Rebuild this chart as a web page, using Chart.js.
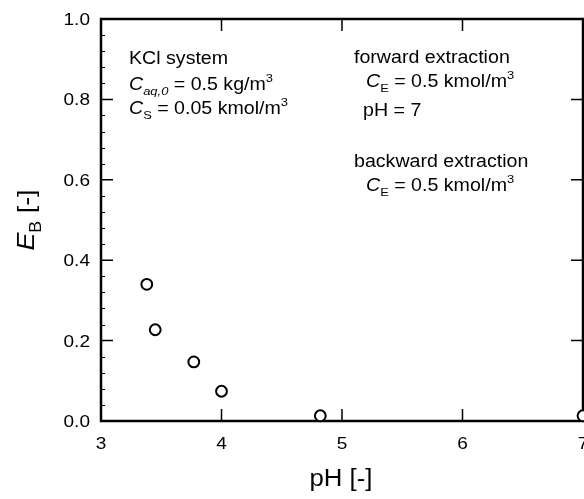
<!DOCTYPE html>
<html>
<head>
<meta charset="utf-8">
<script src="https://cdn.jsdelivr.net/npm/chart.js@4.4.1/dist/chart.umd.min.js"></script>
<style>
  html, body { margin: 0; padding: 0; background: #fff; }
</style>
</head>
<body>
<canvas id="chart" width="584" height="499"></canvas>
<script>
// measured points, E_B vs pH
const phValues = [3.38, 3.45, 3.77, 4.0, 4.82, 7.0];
const ebValues = [0.34, 0.227, 0.147, 0.074, 0.013, 0.013];

const xTickValues = [3, 4, 5, 6, 7];
const xTickLabels = ['3', '4', '5', '6', '7'];
const yTickValues = [0.0, 0.2, 0.4, 0.6, 0.8, 1.0];
const yTickLabels = ['0.0', '0.2', '0.4', '0.6', '0.8', '1.0'];
const yMinorValues = [0.04, 0.08, 0.12, 0.16, 0.24, 0.28, 0.32, 0.36, 0.44, 0.48, 0.52, 0.56,
                      0.64, 0.68, 0.72, 0.76, 0.84, 0.88, 0.92, 0.96];

const FONT = '"Liberation Sans", Arial, sans-serif';
const STRETCH = 1.12;

// text runs: {t, i: italic, sub, sup}
const leftNote = [
    [{ t: 'KCl system' }],
    [{ t: 'C', i: true }, { t: 'aq,0', i: true, sub: true }, { t: ' = 0.5 kg/m' }, { t: '3', sup: true }],
    [{ t: 'C', i: true }, { t: 'S', sub: true }, { t: ' = 0.05 kmol/m' }, { t: '3', sup: true }]
];
const rightNote = [
    [{ t: 'forward extraction' }],
    [{ t: 'C', i: true }, { t: 'E', sub: true }, { t: ' = 0.5 kmol/m' }, { t: '3', sup: true }],
    [{ t: 'pH = 7' }],
    [{ t: 'backward extraction' }],
    [{ t: 'C', i: true }, { t: 'E', sub: true }, { t: ' = 0.5 kmol/m' }, { t: '3', sup: true }]
];

function runFont(run, size) {
    const fs = (run.sub || run.sup) ? size * 0.66 : size;
    return (run.i ? 'italic ' : '') + fs + 'px ' + FONT;
}

function richWidth(ctx, runs, size) {
    let w = 0;
    runs.forEach(run => {
        ctx.font = runFont(run, size);
        w += ctx.measureText(run.t).width;
    });
    return w * STRETCH;
}

function drawRich(ctx, x, y, runs, size) {
    ctx.save();
    ctx.translate(x, y);
    ctx.scale(STRETCH, 1);
    ctx.fillStyle = '#000';
    ctx.textBaseline = 'alphabetic';
    ctx.textAlign = 'left';
    let cx = 0;
    runs.forEach(run => {
        ctx.font = runFont(run, size);
        let dy = 0;
        if (run.sub) dy = size * 0.3;
        if (run.sup) dy = -size * 0.45;
        ctx.fillText(run.t, cx, dy);
        cx += ctx.measureText(run.t).width;
    });
    ctx.restore();
}

const framePlugin = {
    id: 'frame',
    beforeDatasetsDraw(chart) {
        const ctx = chart.ctx;
        const area = chart.chartArea;
        const xs = chart.scales.x;
        const ys = chart.scales.y;
        ctx.save();
        ctx.strokeStyle = '#000';

        // inward major ticks on all four sides
        ctx.lineWidth = 1.5;
        ctx.beginPath();
        xTickValues.slice(1, -1).forEach(v => {
            const px = xs.getPixelForValue(v);
            ctx.moveTo(px, area.bottom);
            ctx.lineTo(px, area.bottom - 12);
            ctx.moveTo(px, area.top);
            ctx.lineTo(px, area.top + 12);
        });
        yTickValues.slice(1, -1).forEach(v => {
            const py = ys.getPixelForValue(v);
            ctx.moveTo(area.left, py);
            ctx.lineTo(area.left + 12, py);
            ctx.moveTo(area.right, py);
            ctx.lineTo(area.right - 12, py);
        });
        ctx.stroke();

        // minor ticks, left axis only
        ctx.lineWidth = 1;
        ctx.beginPath();
        yMinorValues.forEach(v => {
            const py = Math.round(ys.getPixelForValue(v)) + 0.5;
            ctx.moveTo(area.left, py);
            ctx.lineTo(area.left + 4, py);
        });
        ctx.stroke();

        ctx.lineWidth = 2.5;
        ctx.strokeRect(area.left, area.top, area.right - area.left, area.bottom - area.top);
        ctx.restore();
    },
    afterDraw(chart) {
        const ctx = chart.ctx;
        const area = chart.chartArea;
        const xs = chart.scales.x;
        const ys = chart.scales.y;

        // tick labels
        xTickValues.forEach((v, i) => {
            const run = [{ t: xTickLabels[i] }];
            const w = richWidth(ctx, run, 17);
            drawRich(ctx, xs.getPixelForValue(v) - w / 2, area.bottom + 28, run, 17);
        });
        yTickValues.forEach((v, i) => {
            const run = [{ t: yTickLabels[i] }];
            const w = richWidth(ctx, run, 17);
            drawRich(ctx, area.left - 11 - w, ys.getPixelForValue(v) + 6, run, 17);
        });

        const size = 17.5;
        drawRich(ctx, 129, 64, leftNote[0], size);
        drawRich(ctx, 129, 90, leftNote[1], size);
        drawRich(ctx, 129, 114, leftNote[2], size);

        drawRich(ctx, 354, 63, rightNote[0], size);
        drawRich(ctx, 366, 87, rightNote[1], size);
        drawRich(ctx, 363, 116, rightNote[2], size);
        drawRich(ctx, 354, 167, rightNote[3], size);
        drawRich(ctx, 366, 191, rightNote[4], size);

        // axis titles
        const xTitle = [{ t: 'pH [-]' }];
        const xw = richWidth(ctx, xTitle, 23);
        drawRich(ctx, 341 - xw / 2, 486, xTitle, 23);

        const yTitle = [{ t: 'E', i: true }, { t: 'B', sub: true }, { t: ' [-]' }];
        const yw = richWidth(ctx, yTitle, 24);
        ctx.save();
        ctx.translate(34, 220 + yw / 2);
        ctx.rotate(-Math.PI / 2);
        drawRich(ctx, 0, 0, yTitle, 24);
        ctx.restore();
    }
};

const ctx = document.getElementById('chart').getContext('2d');

new Chart(ctx, {
    type: 'scatter',
    data: {
        datasets: [{
            data: phValues.map((x, i) => ({ x: x, y: ebValues[i] })),
            pointStyle: 'circle',
            pointRadius: 5.4,
            pointBorderWidth: 2,
            borderColor: '#000',
            backgroundColor: '#fff',
            showLine: false,
            clip: false
        }]
    },
    options: {
        responsive: false,
        animation: false,
        layout: {
            autoPadding: false,
            padding: { top: 19, right: 1, left: 0, bottom: 0 }
        },
        scales: {
            x: {
                type: 'linear',
                min: 3,
                max: 7,
                afterFit: scale => {
                    scale.height = 78;
                },
                grid: { display: false, drawTicks: false },
                border: { display: false },
                ticks: { display: false }
            },
            y: {
                type: 'linear',
                min: 0,
                max: 1,
                afterFit: scale => {
                    scale.width = 101;
                },
                grid: { display: false, drawTicks: false },
                border: { display: false },
                ticks: { display: false }
            }
        },
        plugins: {
            legend: { display: false },
            tooltip: { enabled: false }
        }
    },
    plugins: [framePlugin]
});
</script>
</body>
</html>
